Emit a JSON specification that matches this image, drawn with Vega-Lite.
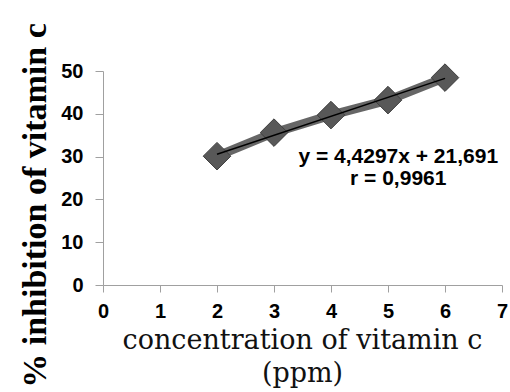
{
  "$schema": "https://vega.github.io/schema/vega-lite/v6.json",
  "autosize": "none",
  "width": 399,
  "height": 214,
  "padding": {"left": 103, "top": 71, "right": 8, "bottom": 107},
  "background": "white",
  "config": {"view": {"stroke": null}},
  "datasets": {
    "pts": [
      {"conc": 2, "inhib": 30.1},
      {"conc": 3, "inhib": 35.6},
      {"conc": 4, "inhib": 39.7},
      {"conc": 5, "inhib": 43.2},
      {"conc": 6, "inhib": 48.45}
    ],
    "labels": [
      {"conc": 5.18, "inhib": 28.5, "txt": "y = 4,4297x + 21,691"},
      {"conc": 5.18, "inhib": 23.3, "txt": "r = 0,9961"}
    ]
  },
  "encoding": {
    "x": {
      "field": "conc", "type": "quantitative",
      "scale": {"domain": [0, 7], "nice": false, "zero": true},
      "axis": {
        "values": [0, 1, 2, 3, 4, 5, 6, 7],
        "grid": false,
        "domainColor": "#a0a0a0", "tickColor": "#a0a0a0", "tickSize": 7,
        "labelFont": "Liberation Sans", "labelFontWeight": "bold", "labelFontSize": 20,
        "labelColor": "#000", "labelPadding": 9, "labelFlush": false,
        "title": ["concentration of vitamin c", "(ppm)"],
        "titleFont": "DejaVu Serif", "titleFontWeight": "normal", "titleFontSize": 27,
        "titleColor": "#111", "titleLineHeight": 33,
        "titleBaseline": "alphabetic", "titleAlign": "center",
        "titleX": 199, "titleY": 63
      }
    },
    "y": {
      "field": "inhib", "type": "quantitative",
      "scale": {"domain": [0, 50], "nice": false},
      "axis": {
        "values": [0, 10, 20, 30, 40, 50],
        "grid": false,
        "domainColor": "#a0a0a0", "tickColor": "#a0a0a0", "tickSize": 8,
        "labelFont": "Liberation Sans", "labelFontWeight": "bold", "labelFontSize": 20,
        "labelColor": "#000", "labelPadding": 12, "labelFlush": false,
        "title": "% inhibition of vitamin c",
        "titleFont": "Liberation Serif", "titleFontWeight": "bold", "titleFontSize": 34,
        "titleColor": "#000", "titleAngle": -90,
        "titleBaseline": "alphabetic", "titleAlign": "center",
        "titleX": -58, "titleY": 134
      }
    }
  },
  "layer": [
    {
      "data": {"name": "pts"},
      "mark": {"type": "line", "stroke": "#5e5e5e", "strokeWidth": 9, "opacity": 0.95}
    },
    {
      "data": {"name": "pts"},
      "mark": {"type": "point", "shape": "diamond", "size": 760, "filled": true, "fill": "#585858", "stroke": "#3e3e3e", "strokeWidth": 1, "opacity": 1}
    },
    {
      "data": {"name": "pts"},
      "transform": [{"regression": "inhib", "on": "conc", "extent": [2, 6]}],
      "mark": {"type": "line", "stroke": "#000", "strokeWidth": 1.5}
    },
    {
      "data": {"name": "labels"},
      "mark": {"type": "text", "font": "Liberation Sans", "fontWeight": "bold", "fontSize": 21, "align": "center", "baseline": "alphabetic", "color": "#000"},
      "encoding": {"text": {"field": "txt", "type": "nominal"}}
    }
  ]
}
